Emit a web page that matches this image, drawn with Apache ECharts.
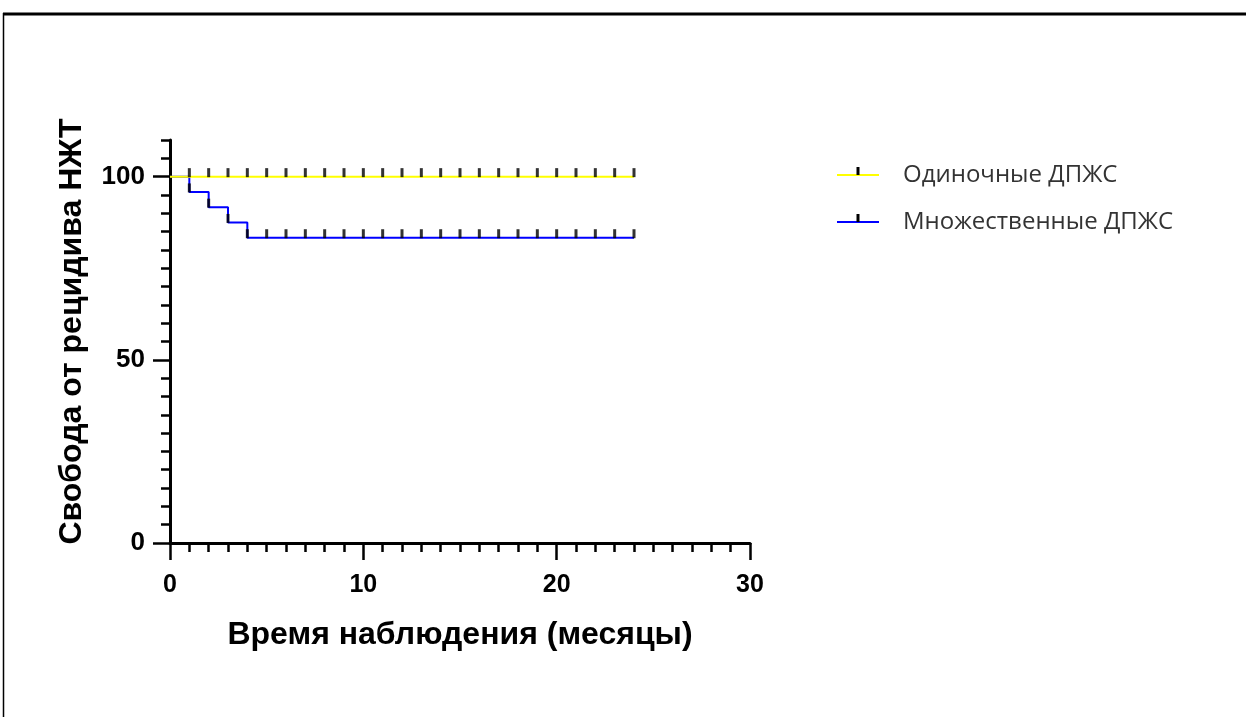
<!DOCTYPE html>
<html>
<head>
<meta charset="utf-8">
<script src="https://cdn.jsdelivr.net/npm/echarts@6/dist/echarts.min.js"></script>
<style>
  html, body { margin: 0; padding: 0; background: #fff; }
  #chart { width: 1246px; height: 717px; }
</style>
</head>
<body>
<div id="chart"></div>
<script>
// Kaplan–Meier curves: [month, % free of recurrence]
const seriesNames = ['Одиночные ДПЖС', 'Множественные ДПЖС'];
const singleSteps = [[0, 100], [24, 100]];
const multipleSteps = [[0, 100], [1, 95.83], [2, 91.67], [3, 87.5], [4, 83.33], [24, 83.33]];
// censoring times (months)
const singleCensored = [1, 2, 3, 4, 5, 6, 7, 8, 9, 10, 11, 12, 13, 14, 15, 16, 17, 18, 19, 20, 21, 22, 23, 24];
const multipleCensored = [1, 2, 3, 4, 5, 6, 7, 8, 9, 10, 11, 12, 13, 14, 15, 16, 17, 18, 19, 20, 21, 22, 23, 24];
// labelled ticks
const xTickLabels = [0, 10, 20, 30];
const yTickLabels = [0, 50, 100];

const xTitle = 'Время наблюдения (месяцы)';
const yTitle = 'Свобода от рецидива НЖТ';
const colors = ['#ffff00', '#0000ff'];

// survival value of a step curve at time t
function survivalAt(steps, t) {
  let v = steps[0][1];
  for (const [x, y] of steps) { if (x <= t) v = y; }
  return v;
}
const censorPoints = (steps, times) => times.map(t => [t, survivalAt(steps, t)]);

const boldFont = { fontFamily: 'Liberation Sans, Arial, sans-serif', fontWeight: 'bold', color: '#000' };
const blackLine = { color: '#000', width: 2.5 };

const chart = echarts.init(document.getElementById('chart'), null, { renderer: 'canvas' });

// legend layout; the key centre lines are reused for the black censor marks on the keys
const legendTop = 158;
const legendFontSize = 24;
const legendGap = 23;
const legendKeyX = 837;
const legendRowCentre = i => legendTop + 5 + legendFontSize / 2 + i * (legendFontSize + legendGap);

chart.setOption({
  animation: false,
  backgroundColor: '#fff',
  grid: { left: 170, top: 140, width: 580, height: 403, containLabel: false },
  legend: {
    data: seriesNames,
    orient: 'vertical',
    left: legendKeyX - 5,
    top: legendTop,
    itemWidth: 42,
    itemHeight: 2,
    itemGap: legendGap,
    icon: 'rect',
    textStyle: { fontFamily: 'Open Sans, Noto Sans, sans-serif', fontSize: legendFontSize, color: '#333', padding: [0, 0, 0, 19] }
  },
  xAxis: {
    type: 'value',
    min: 0, max: 30, interval: 10,
    axisLine: { show: true, lineStyle: { color: '#000', width: 3 } },
    axisTick: { show: true, length: 17, lineStyle: blackLine, customValues: xTickLabels },
    minorTick: { show: true, splitNumber: 10, length: 9, lineStyle: blackLine },
    splitLine: { show: false },
    axisLabel: Object.assign({ fontSize: 25, margin: 30, customValues: xTickLabels }, boldFont),
    name: xTitle,
    nameLocation: 'middle',
    nameGap: 76,
    nameTextStyle: Object.assign({ fontSize: 32 }, boldFont)
  },
  yAxis: [
    {
      type: 'value', position: 'left',
      min: 0, max: 110, interval: 5,
      axisLine: { show: true, lineStyle: { color: '#000', width: 3 } },
      axisTick: { show: true, length: 9, lineStyle: blackLine },
      axisLabel: { show: false },
      splitLine: { show: false }
    },
    {
      type: 'value', position: 'left', offset: 0,
      min: 0, max: 110, interval: 5,
      axisLine: { show: false },
      axisTick: { show: true, length: 17, lineStyle: blackLine, customValues: yTickLabels },
      axisLabel: Object.assign({ fontSize: 26, margin: 25, customValues: yTickLabels }, boldFont),
      splitLine: { show: false },
      name: yTitle,
      nameLocation: 'middle',
      nameGap: 82,
      nameTextStyle: Object.assign({ fontSize: 32, padding: [0, 0, 0, 20] }, boldFont)
    }
  ],
  series: [
    {
      name: seriesNames[1], type: 'line', step: 'end', data: multipleSteps,
      showSymbol: false, color: colors[1], lineStyle: { width: 2, color: colors[1] }, z: 2
    },
    {
      name: seriesNames[0], type: 'line', step: 'end', data: singleSteps,
      showSymbol: false, color: colors[0], lineStyle: { width: 2, color: colors[0] }, z: 3
    },
    {
      type: 'scatter', data: censorPoints(multipleSteps, multipleCensored), silent: true,
      symbol: 'rect', symbolSize: [3, 9], symbolOffset: [0, -4], itemStyle: { color: '#000' }, z: 4
    },
    {
      type: 'scatter', data: censorPoints(singleSteps, singleCensored), silent: true,
      symbol: 'rect', symbolSize: [3, 9], symbolOffset: [0, -4], itemStyle: { color: '#000' }, z: 4
    }
  ],
  graphic: [
    // page frame
    { type: 'line', shape: { x1: 3, y1: 14, x2: 1246, y2: 14 }, style: { stroke: '#000', lineWidth: 3 } },
    { type: 'line', shape: { x1: 3.5, y1: 13, x2: 3.5, y2: 717 }, style: { stroke: '#000', lineWidth: 1.5 } },
    // censor marks on the legend keys
    ...seriesNames.map((n, i) => ({
      type: 'rect', z: 100,
      shape: { x: legendKeyX + 19.5, y: legendRowCentre(i) - 8, width: 3, height: 8 },
      style: { fill: '#000' }
    }))
  ]
});
</script>
</body>
</html>
